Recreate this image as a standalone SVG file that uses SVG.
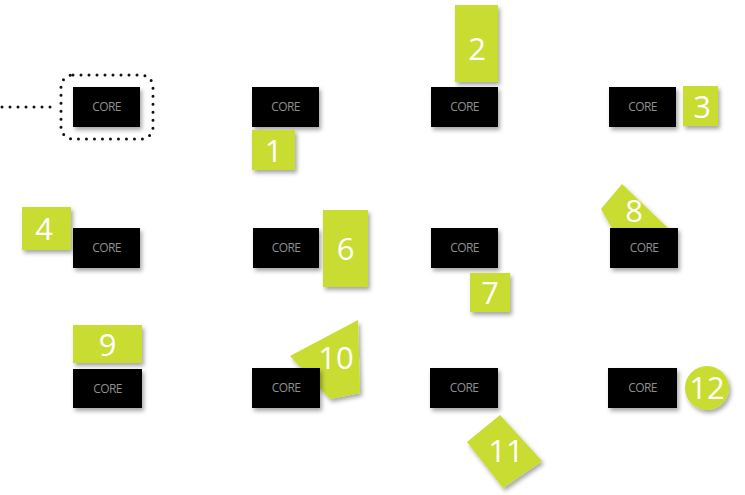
<svg xmlns="http://www.w3.org/2000/svg" width="745" height="495" viewBox="0 0 745 495">
<defs>
<filter id="sh" x="-30%" y="-30%" width="160%" height="160%">
<feDropShadow dx="2" dy="3" stdDeviation="2" flood-color="#000" flood-opacity="0.35"/>
</filter>
<style>
.core{fill:#000;filter:url(#sh)}
.ct{font-family:"Open Sans","Liberation Sans",sans-serif;font-size:12px;fill:#8f8f8f;text-anchor:middle;letter-spacing:-0.6px}
.g{fill:#c8dc30;filter:url(#sh)}
.n{font-family:"Open Sans","Liberation Sans",sans-serif;font-size:31px;fill:#fff;text-anchor:middle}
.dot{fill:none;stroke:#111;stroke-width:3;stroke-linecap:round;stroke-dasharray:0 8}
</style>
</defs>
<rect width="745" height="495" fill="#fff"/>
<g id="connectors">
<line class="dot" x1="2" y1="107" x2="58" y2="107"/>
</g>
<g id="n0">
<rect class="dot" x="61" y="75" width="92" height="64" rx="12"/>
<rect class="core" x="73" y="87" width="67" height="40"/>
<text class="ct" x="106.5" y="111">CORE</text>
</g>
<g id="n1">
<rect class="core" x="252" y="87" width="67" height="40"/>
<text class="ct" x="285.5" y="111">CORE</text>
<rect class="g" x="252" y="130" width="43" height="40"/>
<text class="n" x="273.5" y="162">1</text>
</g>
<g id="n2">
<rect class="g" x="455" y="5" width="43" height="77"/>
<text class="n" x="477" y="60">2</text>
<rect class="core" x="431" y="87" width="67" height="40"/>
<text class="ct" x="464.5" y="111">CORE</text>
</g>
<g id="n3">
<rect class="core" x="609" y="87" width="67" height="40"/>
<text class="ct" x="642.5" y="111">CORE</text>
<rect class="g" x="683" y="86" width="35" height="40"/>
<text class="n" x="702" y="118">3</text>
</g>
<g id="n4">
<rect class="g" x="22" y="207" width="49" height="43"/>
<text class="n" x="44" y="240">4</text>
<rect class="core" x="73" y="228" width="67" height="40"/>
<text class="ct" x="106.5" y="252">CORE</text>
</g>
<g id="n6">
<rect class="core" x="253" y="228" width="66" height="40"/>
<text class="ct" x="286" y="252">CORE</text>
<rect class="g" x="323" y="210" width="45" height="77"/>
<text class="n" x="345.5" y="260">6</text>
</g>
<g id="n7">
<rect class="core" x="431" y="228" width="67" height="40"/>
<text class="ct" x="464.5" y="252">CORE</text>
<rect class="g" x="470" y="273" width="40" height="39"/>
<text class="n" x="490" y="304">7</text>
</g>
<g id="n8">
<polygon class="g" points="622,184 601,209 614,232 672,232"/>
<text class="n" x="634" y="222">8</text>
<rect class="core" x="610" y="228" width="68" height="40"/>
<text class="ct" x="644" y="252">CORE</text>
</g>
<g id="n9">
<rect class="g" x="73" y="325" width="69" height="38"/>
<text class="n" x="107.5" y="356">9</text>
<rect class="core" x="73" y="369" width="69" height="39"/>
<text class="ct" x="107.5" y="393">CORE</text>
</g>
<g id="n10">
<polygon class="g" points="290,356 358,320 360,393 330,399"/>
<text class="n" x="336" y="369">10</text>
<rect class="core" x="252" y="368" width="68" height="40"/>
<text class="ct" x="286" y="392">CORE</text>
</g>
<g id="n11">
<rect class="core" x="430" y="368" width="68" height="40"/>
<text class="ct" x="464" y="392">CORE</text>
<polygon class="g" points="500,415 467,442 503,488 542,461"/>
<text class="n" x="506" y="462">11</text>
</g>
<g id="n12">
<rect class="core" x="608" y="368" width="69" height="40"/>
<text class="ct" x="642.5" y="392">CORE</text>
<circle class="g" cx="707" cy="388" r="22"/>
<text class="n" x="707" y="399">12</text>
</g>
</svg>
